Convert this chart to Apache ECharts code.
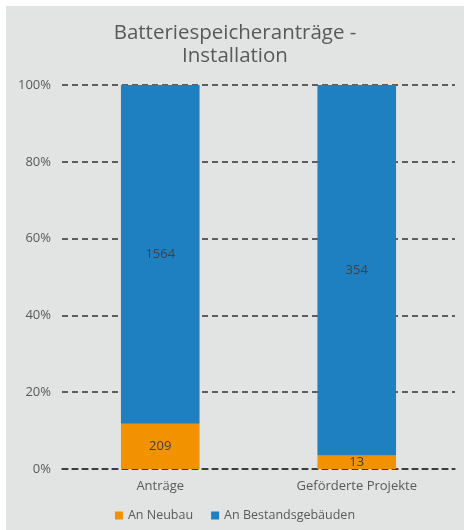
<!DOCTYPE html>
<html>
<head>
<meta charset="utf-8">
<script src="https://cdn.jsdelivr.net/npm/echarts@6/dist/echarts.min.js"></script>
<style>
html,body{margin:0;padding:0;background:#ffffff;width:464px;height:530px;overflow:hidden;}
#c{position:absolute;left:6px;top:6px;width:458px;height:524px;}
</style>
</head>
<body>
<div id="c"></div>
<script>
const categories = ['Anträge', 'Geförderte Projekte'];
const neubau = [209, 13];
const bestand = [1564, 354];
const yTicks = [0, 20, 40, 60, 80, 100];

const totals = categories.map((_, i) => neubau[i] + bestand[i]);
const pct = (arr) => arr.map((v, i) => ({ value: v / totals[i] * 100, raw: v }));

const font = '"Open Sans", "Noto Sans", sans-serif';
const chart = echarts.init(document.getElementById('c'));
chart.setOption({
  backgroundColor: '#e2e3e3',
  animation: false,
  title: {
    text: 'Batteriespeicheranträge -\nInstallation',
    left: 'center',
    top: 11,
    textStyle: { fontFamily: font, fontSize: 20.5, fontWeight: 'normal', color: '#595959', lineHeight: 23 }
  },
  grid: { left: 56, right: 9, top: 79, bottom: 61 },
  legend: {
    bottom: 3,
    left: 'center',
    itemWidth: 8,
    itemHeight: 8,
    itemGap: 18,
    icon: 'rect',
    textStyle: { fontFamily: font, fontSize: 12.5, color: '#595959' },
    data: ['An Neubau', 'An Bestandsgebäuden']
  },
  xAxis: {
    type: 'category',
    data: categories,
    axisLine: { show: true, lineStyle: { color: '#333', type: [6, 4], width: 1.5 } },
    axisTick: { show: false },
    axisLabel: { fontFamily: font, fontSize: 13, color: '#595959', margin: 11 }
  },
  yAxis: {
    type: 'value',
    min: 0, max: 100, interval: 20,
    axisLine: { show: false },
    axisTick: { show: false },
    axisLabel: { fontFamily: font, fontSize: 13, color: '#595959', margin: 11, formatter: v => yTicks.includes(v) ? v + '%' : '' },
    splitLine: { lineStyle: { color: '#333', type: [6, 4], width: 1.5 } }
  },
  series: [
    {
      name: 'An Neubau', type: 'bar', stack: 's', barWidth: '40%',
      data: pct(neubau),
      itemStyle: { color: '#f39200' },
      label: { show: true, position: 'inside', fontFamily: font, fontSize: 13, color: '#404040', formatter: p => p.data.raw }
    },
    {
      name: 'An Bestandsgebäuden', type: 'bar', stack: 's', barWidth: '40%',
      data: pct(bestand),
      itemStyle: { color: '#1f80c1' },
      label: { show: true, position: 'inside', fontFamily: font, fontSize: 13, color: '#404040', formatter: p => p.data.raw }
    }
  ]
});
</script>
</body>
</html>
